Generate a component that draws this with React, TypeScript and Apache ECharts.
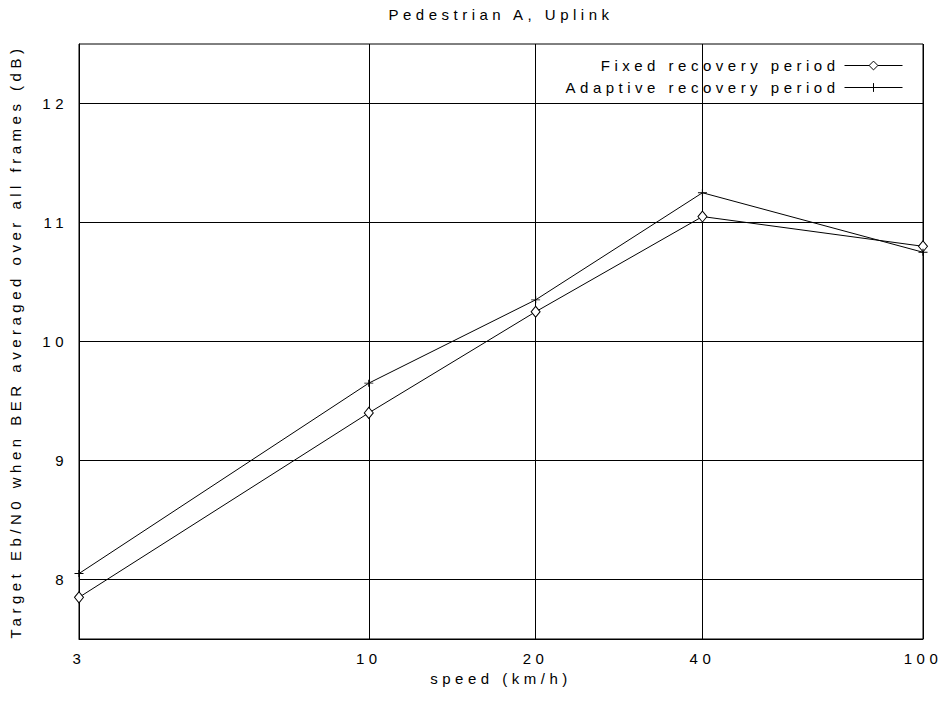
import React, { useEffect, useRef } from "react";
import * as echarts from "echarts";

const speeds = [3, 10, 20, 40, 100];
const fixedPeriod = [7.85, 9.4, 10.25, 11.05, 10.8];
const adaptivePeriod = [8.05, 9.65, 10.35, 11.25, 10.75];
const yTicks = [8, 9, 10, 11, 12];
const seriesNames = ["Fixed recovery period", "Adaptive recovery period"];
const titleText = "Pedestrian A, Uplink";
const xName = "speed (km/h)";
const yName = "Target Eb/N0 when BER averaged over all frames (dB)";

const FONT = "Liberation Sans, Arial, sans-serif";
const PLUS = "path://M0,5L10,5M5,0L5,10";

export default function App() {
  const ref = useRef<HTMLDivElement>(null);
  useEffect(() => {
    if (!ref.current) return;
    const chart = echarts.init(ref.current, null, { renderer: "svg" });
    const xTickVals = speeds.map((s) => Math.log10(s));
    const toData = (vals: number[]) => speeds.map((s, i) => [Math.log10(s), vals[i]]);
    const txt = { color: "#000", fontSize: 15, fontFamily: FONT };
    chart.setOption({
      animation: false,
      backgroundColor: "#fff",
      graphic: [
        {
          type: "text",
          x: 501,
          y: 14,
          style: {
            text: titleText,
            fill: "#000",
            font: "15px " + FONT,
            textAlign: "center",
            textVerticalAlign: "middle",
          },
        },
      ],
      grid: {
        left: 79,
        right: 24,
        top: 44,
        bottom: 77,
        show: true,
        borderColor: "#000",
        borderWidth: 1,
        containLabel: false,
        outerBoundsMode: "none",
      },
      legend: {
        orient: "vertical",
        right: 44,
        top: 58,
        align: "right",
        itemWidth: 58,
        itemHeight: 11,
        itemGap: 7,
        padding: 0,
        textStyle: { ...txt, lineHeight: 11 },
        lineStyle: { width: 1 },
        itemStyle: { borderWidth: 1 },
        data: seriesNames,
      },
      xAxis: {
        type: "value",
        min: Math.log10(3),
        max: 2,
        name: xName,
        nameLocation: "middle",
        nameGap: 28,
        nameTextStyle: txt,
        axisLine: { show: true, lineStyle: { color: "#000", width: 1 } },
        axisTick: { show: false, customValues: xTickVals },
        axisLabel: {
          ...txt,
          margin: 12,
          customValues: xTickVals,
          formatter: (v: number) => String(Math.round(Math.pow(10, v))),
        },
        splitLine: { show: true, lineStyle: { color: "#000", width: 1 } },
      },
      yAxis: {
        type: "value",
        min: 7.5,
        max: 12.5,
        name: yName,
        nameLocation: "middle",
        nameGap: 56,
        nameTextStyle: txt,
        axisLine: { show: true, lineStyle: { color: "#000", width: 1 } },
        axisTick: { show: false, customValues: yTicks },
        axisLabel: { ...txt, margin: 11, customValues: yTicks },
        splitLine: { show: true, lineStyle: { color: "#000", width: 1 } },
      },
      series: [
        {
          name: seriesNames[0],
          type: "line",
          data: toData(fixedPeriod),
          symbol: "diamond",
          symbolSize: [9, 11],
          showAllSymbol: true,
          lineStyle: { color: "#000", width: 1 },
          itemStyle: { color: "#fff", borderColor: "#000", borderWidth: 1 },
          z: 3,
        },
        {
          name: seriesNames[1],
          type: "line",
          data: toData(adaptivePeriod),
          symbol: PLUS,
          symbolSize: [9, 7],
          showAllSymbol: true,
          lineStyle: { color: "#000", width: 1 },
          itemStyle: { color: "transparent", borderColor: "#000", borderWidth: 1 },
          z: 3,
        },
      ],
    });
    return () => chart.dispose();
  }, []);
  return (
    <div
      ref={ref}
      style={{ position: "fixed", left: 0, top: 0, width: 947, height: 716, letterSpacing: "4.5px", background: "#fff" }}
    />
  );
}
